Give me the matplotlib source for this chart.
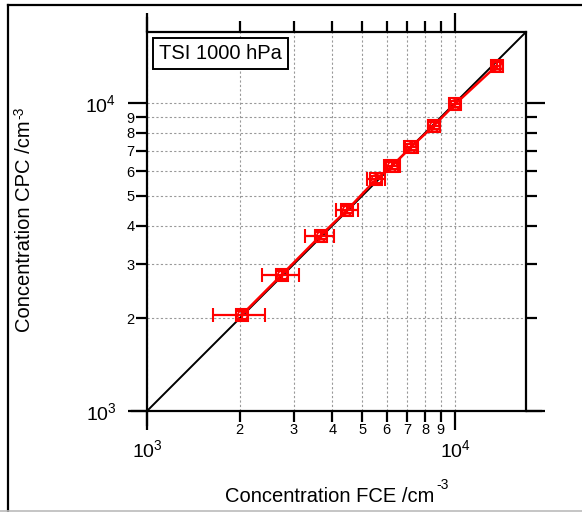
import numpy as np
import matplotlib.pyplot as plt
from matplotlib.lines import Line2D
from matplotlib.ticker import FixedLocator, FixedFormatter

plt.rcParams['font.family'] = ['Liberation Sans', 'DejaVu Sans']

# data (cm^-3)
fce = [2030, 2740, 3660, 4470, 5540, 6250, 7200, 8550, 10020, 13660]
cpc = [2050, 2770, 3710, 4500, 5650, 6250, 7195, 8450, 9925, 13220]
fce_err = [390, 380, 390, 370, 380, 380, 380, 380, 380, 380]
cpc_err = [60, 80, 100, 120, 150, 160, 180, 210, 250, 330]

lims = [1000, 17000]
major = [1e3, 1e4]
major_lab = ['$\\mathregular{10^{3}}$', '$\\mathregular{10^{4}}$']
minor = [k * 1000 for k in range(2, 10)]
minor_lab = [str(k) for k in range(2, 10)]

W, H = 582, 512
fig = plt.figure(figsize=(W / 100, H / 100), dpi=100)
ax = fig.add_axes([147 / W, 1 - 411 / H, (526 - 147) / W, (411 - 32) / H])
ax.set_xscale('log')
ax.set_yscale('log')
ax.set_xlim(lims)
ax.set_ylim(lims)

# 1:1 line
ax.plot(lims, lims, color='black', lw=1.4, zorder=2)

# measurements
ax.errorbar(fce, cpc, xerr=fce_err, yerr=cpc_err, color='red', lw=1.8,
            marker='s', ms=9, mfc='none', mec='red', mew=1.5,
            capsize=5, capthick=1.6, elinewidth=1.6, zorder=3)
ax.plot(fce, cpc, 'o', ms=7, mfc='none', mec='red', mew=1.2, zorder=3)

for axis in (ax.xaxis, ax.yaxis):
    axis.set_major_locator(FixedLocator(major))
    axis.set_minor_locator(FixedLocator(minor))
    axis.set_major_formatter(FixedFormatter(major_lab))
    axis.set_minor_formatter(FixedFormatter(minor_lab))

ax.grid(True, which='both', color='#999999', lw=0.8, ls=(0, (2, 2)))
ax.set_axisbelow(True)

ax.tick_params(which='both', direction='out', width=1.6, color='black',
               top=True, right=True, labeltop=False, labelright=False)
ax.tick_params(which='major', length=14, labelsize=14)
ax.tick_params(which='minor', length=8, labelsize=10.5)
ax.tick_params(axis='x', which='major', pad=6)
ax.tick_params(axis='x', which='minor', pad=1)
ax.tick_params(axis='y', which='major', pad=8)
ax.tick_params(axis='y', which='minor', pad=1)

for s in ['top', 'right']:
    ax.spines[s].set_linewidth(1.6)
ax.spines['left'].set_visible(False)
ax.spines['bottom'].set_visible(False)
hpx = 379.0
ax.add_line(Line2D([0, 0], [-14 / hpx, 1 + 14 / hpx], transform=ax.transAxes,
                   color='black', lw=1.6, clip_on=False))
ax.add_line(Line2D([-15 / hpx, 1 + 15 / hpx], [0, 0], transform=ax.transAxes,
                   color='black', lw=1.6, clip_on=False))

ax.text(0.032, 0.968, 'TSI 1000 hPa', transform=ax.transAxes, fontsize=14.5,
        ha='left', va='top',
        bbox=dict(boxstyle='square,pad=0.3', fc='white', ec='black', lw=1.4))

# axis titles, with the "-3" superscripts as separate small texts
xl = fig.text(330 / W, 1 - 496 / H, 'Concentration FCE /cm', fontsize=14.5,
              ha='center', va='center')
yl = fig.text(25 / W, 1 - 226 / H, 'Concentration CPC /cm', fontsize=14.5,
              ha='center', va='center', rotation=90)
ax.annotate('-3', xy=(1, 1), xycoords=xl, xytext=(1, -4),
            textcoords='offset points', fontsize=10, ha='left', va='bottom')
ax.annotate('-3', xy=(0, 1), xycoords=yl, xytext=(-2, 1),
            textcoords='offset points', fontsize=10, ha='left', va='bottom',
            rotation=90)

# outer frame
fig.add_artist(Line2D([8 / W, 1], [1 - 5 / H, 1 - 5 / H], color='black', lw=1.6))
fig.add_artist(Line2D([8 / W, 8 / W], [0, 1 - 5 / H], color='black', lw=1.6))
fig.add_artist(Line2D([0, 1], [1 / H, 1 / H], color='#bbbbbb', lw=1.2))

fig.savefig('out.png', dpi=100)
